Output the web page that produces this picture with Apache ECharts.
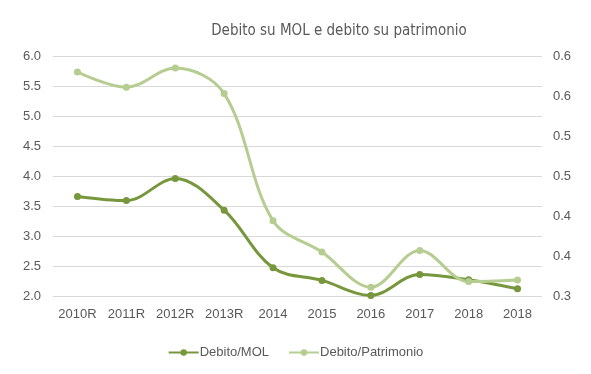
<!DOCTYPE html>
<html>
<head>
<meta charset="utf-8">
<script src="https://cdn.jsdelivr.net/npm/echarts@6/dist/echarts.min.js"></script>
<style>
html,body{margin:0;padding:0;background:#fff;}
#chart{width:591px;height:374px;}
</style>
</head>
<body>
<div id="chart"></div>
<script>
const categories = ['2010R','2011R','2012R','2013R','2014','2015','2016','2017','2018','2018 '];
const debitoMol = [3.66, 3.59, 3.96, 3.43, 2.47, 2.26, 2.01, 2.36, 2.27, 2.12];
const debitoPatrimonio = [0.580, 0.561, 0.585, 0.553, 0.394, 0.355, 0.311, 0.357, 0.318, 0.320];
const leftTickLabels = ['2.0','2.5','3.0','3.5','4.0','4.5','5.0','5.5','6.0'];
const rightTickLabels = ['0.3','0.4','0.4','0.5','0.5','0.6','0.6'];

const chart = echarts.init(document.getElementById('chart'), null, {renderer:'canvas'});
const font = 'Liberation Sans';
chart.setOption({
  animation:false,
  title:{
    text:'Debito su MOL e debito su patrimonio',
    left:334, top:19, textAlign:'center',
    textStyle:{fontFamily:'"DejaVu Sans Condensed", "Liberation Sans"', fontSize:15, fontWeight:'normal', color:'#595959'}
  },
  grid:{left:53, right:49, top:56, bottom:78},
  legend:{
    bottom:10, left:'center', itemGap:19, itemWidth:30, itemHeight:8,
    textStyle:{fontFamily:font, fontSize:13, color:'#595959', padding:[0,0,0,-4]},
    data:['Debito/MOL','Debito/Patrimonio']
  },
  xAxis:{
    type:'category', data:categories, boundaryGap:true,
    axisLine:{show:false}, axisTick:{show:false},
    axisLabel:{interval:0, fontFamily:font, fontSize:13, color:'#595959', margin:12, formatter:v=>v.trim()}
  },
  yAxis:[
    {type:'value', min:2, max:6, interval:0.5, position:'left',
     axisLine:{show:false}, axisTick:{show:false},
     splitLine:{lineStyle:{color:'#d9d9d9', width:1}},
     axisLabel:{fontFamily:font, fontSize:13, color:'#595959', margin:12,
       formatter:(v)=>leftTickLabels[Math.round((v-2)/0.5)]}},
    {type:'value', min:0.3, max:0.6, interval:0.05, position:'right',
     axisLine:{show:false}, axisTick:{show:false}, splitLine:{show:false},
     axisLabel:{fontFamily:font, fontSize:13, color:'#595959', margin:11,
       formatter:(v)=>rightTickLabels[Math.round((v-0.3)/0.05)]}}
  ],
  series:[
    {name:'Debito/MOL', type:'line', yAxisIndex:0, data:debitoMol, smooth:0.35,
     symbol:'circle', symbolSize:7, color:'#77973d',
     lineStyle:{width:3, color:'#77973d'}, itemStyle:{color:'#77973d'}},
    {name:'Debito/Patrimonio', type:'line', yAxisIndex:1, data:debitoPatrimonio, smooth:0.35,
     symbol:'circle', symbolSize:7, color:'#b5cd90',
     lineStyle:{width:3, color:'#b5cd90'}, itemStyle:{color:'#b5cd90'}}
  ]
});
</script>
</body>
</html>
